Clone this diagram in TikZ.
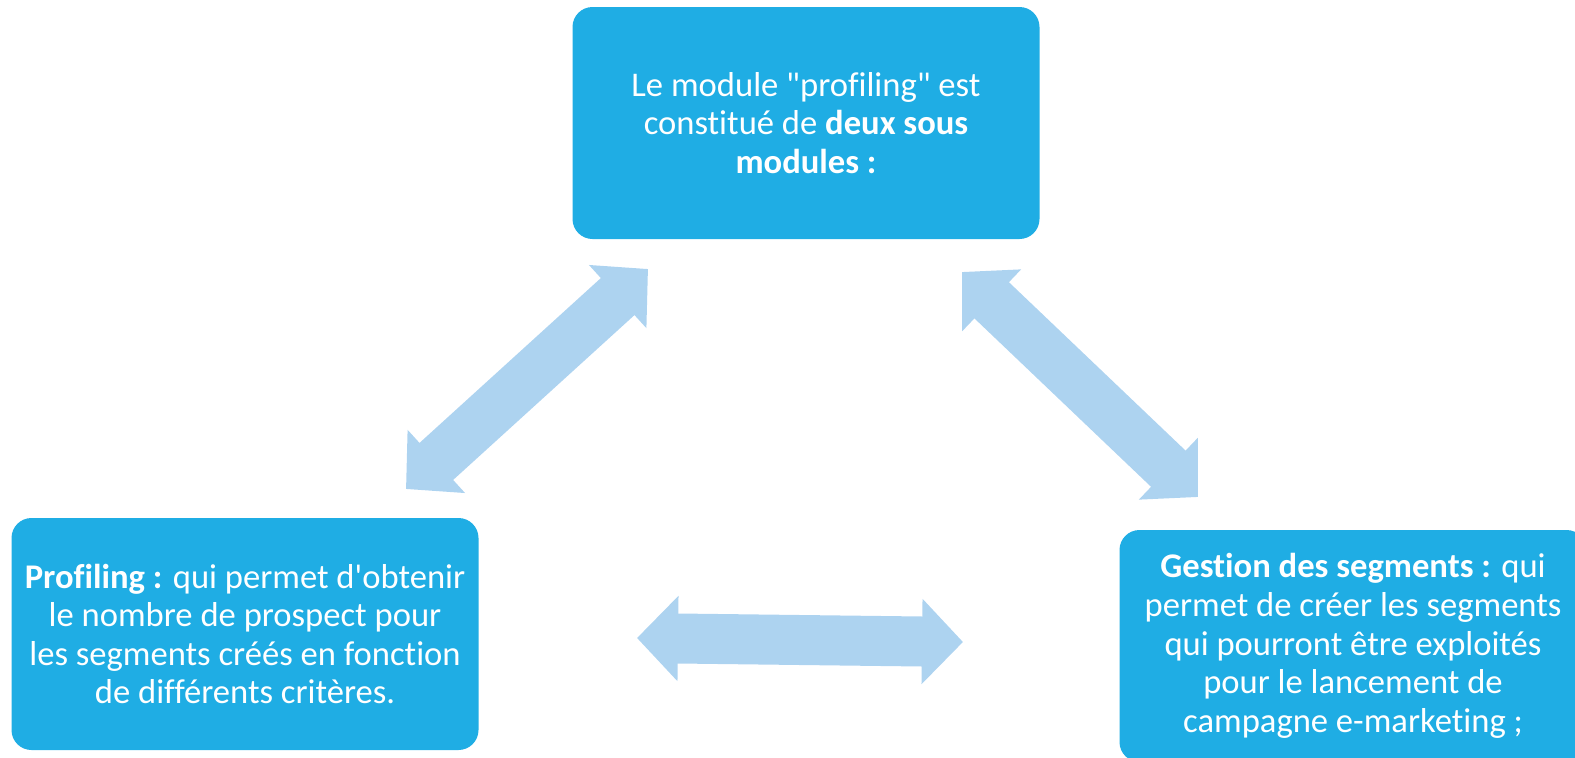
\documentclass[tikz,border=0pt]{standalone}
\usepackage{fontspec}
\setmainfont{Carlito}[Ligatures={TeXOff,NoCommon}]
\usetikzlibrary{arrows.meta}
\definecolor{boxblue}{HTML}{1FADE4}
\definecolor{linkblue}{HTML}{ADD3F0}

\begin{document}
\begin{tikzpicture}
	  [x=1pt,y=-1pt,
	   module/.style={rectangle,rounded corners=20pt,fill=boxblue,text=white,
	     minimum width=467pt,minimum height=232pt,align=center,
	     font=\fontsize{34.6}{38.6}\selectfont},
	   link/.style={draw=linkblue,line width=50pt,
	     {Triangle[length=41pt,width=83pt]}-{Triangle[length=41pt,width=83pt]}}]
	\useasboundingbox (0,0) rectangle (1575,758);
	\clip (0,0) rectangle (1575,758);

	\node[module] (top)   at (806,123)  {Le module "profiling" est\\constitué de \textbf{deux sous}\\\textbf{modules :}};
	\node[module] (left)  at (245,634)  {\textbf{Profiling :} qui permet d'obtenir\\le nombre de prospect pour\\les segments créés en fonction\\de différents critères.};
	\node[module] (right) at (1353,646) {\textbf{Gestion des segments :} qui\\permet de créer les segments\\qui pourront être exploités\\pour le lancement de\\campagne e-marketing ;};

	% free ends of the links
	\coordinate (l1) at (406,489);
	\coordinate (l2) at (648,269);
	\coordinate (r1) at (962,272);
	\coordinate (r2) at (1198,497);
	\coordinate (b1) at (637,638);
	\coordinate (b2) at (963,642);

	\foreach \from/\to in {l1/l2,r1/r2,b1/b2}
	  \draw[link] (\from) -- (\to);
	\end{tikzpicture}
\end{document}
